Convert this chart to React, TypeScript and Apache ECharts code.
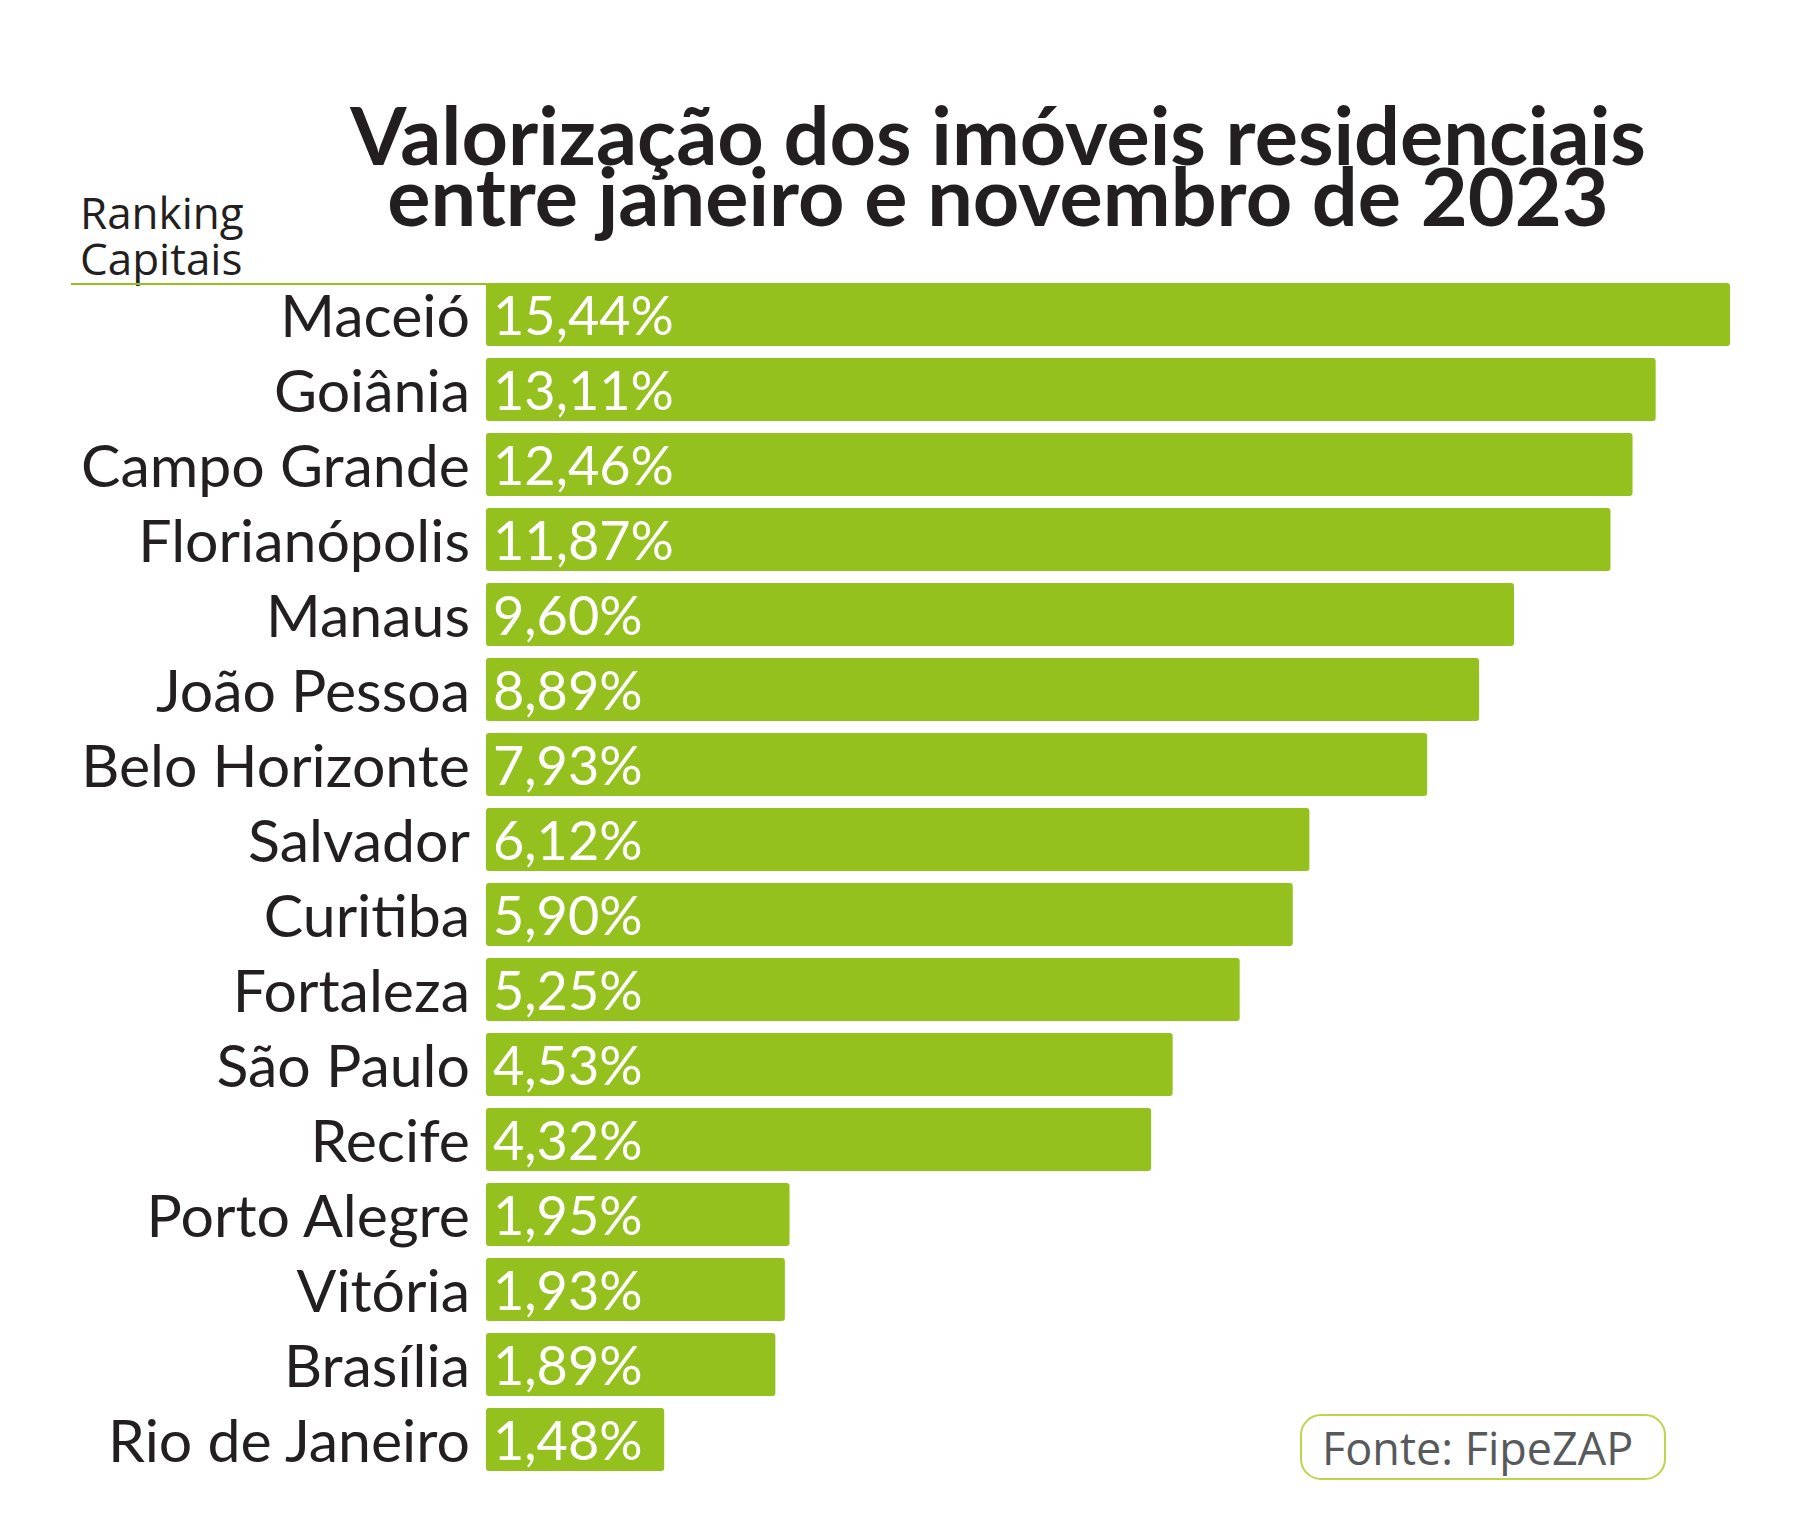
import React, { useEffect, useRef } from "react";
import * as echarts from "echarts";

const categories = [
  "Maceió",
  "Goiânia",
  "Campo Grande",
  "Florianópolis",
  "Manaus",
  "João Pessoa",
  "Belo Horizonte",
  "Salvador",
  "Curitiba",
  "Fortaleza",
  "São Paulo",
  "Recife",
  "Porto Alegre",
  "Vitória",
  "Brasília",
  "Rio de Janeiro",
];

const values = [
  15.44, 13.11, 12.46, 11.87, 9.6, 8.89, 7.93, 6.12, 5.9, 5.25, 4.53, 4.32,
  1.95, 1.93, 1.89, 1.48,
];

const titleLines = [
  "Valorização dos imóveis residenciais",
  "entre janeiro e novembro de 2023",
];
const sideLabel = ["Ranking", "Capitais"];
const sourceText = "Fonte: FipeZAP";

const GREEN = "#95c11f";
const DARK = "#231f20";

export default function App() {
  const ref = useRef<HTMLDivElement>(null);

  useEffect(() => {
    document.body.style.margin = "0";
    if (!ref.current) return;
    const chart = echarts.init(ref.current, null, { renderer: "svg" });
    chart.setOption({
      animation: false,
      backgroundColor: "#ffffff",
      grid: { left: 486, right: 72, top: 277, height: 1200, containLabel: false },
      xAxis: {
        type: "log",
        logBase: 10,
        min: 1,
        max: "dataMax",
        show: false,
        splitLine: { show: false },
      },
      yAxis: {
        type: "category",
        inverse: true,
        data: categories,
        axisLine: { show: false },
        axisTick: { show: false },
        axisLabel: {
          interval: 0,
          margin: 16,
          color: DARK,
          fontFamily: "Lato",
          fontSize: 59,
        },
      },
      series: [
        {
          type: "bar",
          data: values,
          barCategoryGap: "16%",
          itemStyle: { color: GREEN, borderRadius: 3 },
          label: {
            show: true,
            position: "insideLeft",
            distance: 7,
            color: "#ffffff",
            fontFamily: "Lato",
            fontSize: 54,
            formatter: (p: any) => p.value.toFixed(2).replace(".", ",") + "%",
          },
        },
      ],
      graphic: [
        {
          type: "text",
          x: 998,
          y: 163.5,
          style: {
            text: titleLines.join("\n"),
            fontFamily: "Lato",
            fontWeight: "bold",
            fontSize: 81,
            lineHeight: 61,
            fill: DARK,
            align: "center",
            verticalAlign: "middle",
          },
        },
        {
          type: "text",
          x: 80,
          y: 235,
          style: {
            text: sideLabel.join("\n"),
            fontFamily: "Open Sans",
            fontSize: 44,
            lineHeight: 46,
            fill: DARK,
            align: "left",
            verticalAlign: "middle",
          },
        },
        {
          type: "line",
          shape: { x1: 71, y1: 284, x2: 487, y2: 284 },
          style: { stroke: GREEN, lineWidth: 2 },
        },
        {
          type: "rect",
          shape: { x: 1301, y: 1415, width: 364, height: 64, r: 20 },
          style: { fill: "#ffffff", stroke: "#bcd64a", lineWidth: 2 },
        },
        {
          type: "text",
          x: 1322,
          y: 1447,
          style: {
            text: sourceText,
            fontFamily: "Open Sans",
            fontSize: 45,
            fill: "#58595b",
            align: "left",
            verticalAlign: "middle",
          },
        },
      ],
    });
    return () => chart.dispose();
  }, []);

  return <div ref={ref} style={{ width: 1802, height: 1536 }} />;
}
